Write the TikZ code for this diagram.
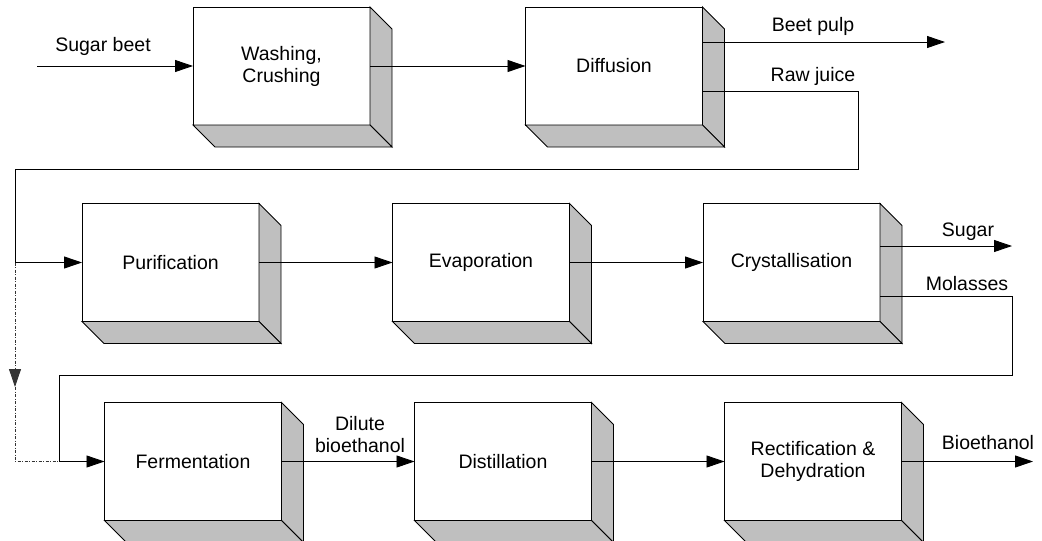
\documentclass[tikz,border=0pt]{standalone}
\usepackage{fontspec}
\setmainfont{Liberation Sans}
\usetikzlibrary{arrows.meta,calc}
\tikzset{
  stage/.style={draw=black, fill=white, line width=0.9pt, minimum width=177pt, minimum height=118pt,
    inner sep=0pt, outer sep=0pt, align=center, font=\fontsize{19.5}{22}\selectfont},
  face/.style={draw=black, fill=black!25, line width=0.9pt, line join=miter},
  flow/.style={draw=black, line width=0.9pt, -{Triangle[length=18pt,width=12pt]}},
  plain/.style={draw=black, line width=0.9pt},
  dashdotline/.style={draw=black!80, line width=0.8pt, dash pattern=on 3pt off 1.5pt on 1pt off 1.5pt},
  lbl/.style={font=\fontsize{19.5}{22}\selectfont, inner sep=0pt, align=center}
}
\newcommand{\boxfaces}[1]{%
  \path[face] (#1.north east) -- ++(22,22) -- ($(#1.south east)+(22,22)$) -- (#1.south east) -- cycle;
  \path[face] (#1.south west) -- ++(22,22) -- ($(#1.south east)+(22,22)$) -- (#1.south east) -- cycle;
}
\begin{document}
\begin{tikzpicture}[x=1pt,y=-1pt]
\useasboundingbox (0,0) rectangle (1042,541);
% stages
\node[stage] (wash)  at (281.5,66)   {Washing,\\Crushing};
\node[stage] (diff)  at (614,66)     {Diffusion};
\node[stage] (pur)   at (170.5,262.5){Purification};
\node[stage] (evap)  at (481,262.5)  {Evaporation};
\node[stage] (cryst) at (791.5,262.5){Crystallisation};
\node[stage] (ferm)  at (193,461.5)  {Fermentation};
\node[stage] (dist)  at (503,461.5)  {Distillation};
\node[stage] (rect)  at (813,461.5)  {Rectification \&\\Dehydration};
\foreach \n in {wash,diff,pur,evap,cryst,ferm,dist,rect}{\boxfaces{\n}}
% free ends and bends
\coordinate (in)   at (37,66);
\coordinate (bp)   at (945,42);
\coordinate (rj)   at (858,91);
\coordinate (rj2)  at (858,169);
\coordinate (lft)  at (15,169);
\coordinate (split) at (15,262.5);
\coordinate (dtip) at (15,387);
\coordinate (dcor) at (15,461.5);
\coordinate (sug)  at (1012,246);
\coordinate (mol)  at (1012,296);
\coordinate (mol2) at (1012,375);
\coordinate (mol3) at (59,375);
\coordinate (join) at (59,461.5);
\coordinate (out)  at (1033,461.5);
% connectors
\draw[flow] (in) -- (wash.west);
\draw[flow] (wash.east) -- (diff.west);
\draw[flow] (diff.east |- bp) -- (bp);
\draw[flow] (diff.east |- rj) -- (rj) -- (rj2) -- (lft) -- (split) -- (pur.west);
\draw[flow] (pur.east) -- (evap.west);
\draw[flow] (evap.east) -- (cryst.west);
\draw[flow] (cryst.east |- sug) -- (sug);
\draw[plain] (cryst.east |- mol) -- (mol) -- (mol2) -- (mol3) -- (join);
\draw[dashdotline, -{Triangle[length=18pt,width=12pt]}] (split) -- (dtip);
\draw[dashdotline] (dtip) -- (dcor) -- (join);
\draw[flow] (join) -- (ferm.west);
\draw[flow] (ferm.east) -- (dist.west);
\draw[flow] (dist.east) -- (rect.west);
\draw[flow] (rect.east) -- (out);
% labels
\node[lbl] (l1) at (103,46) {Sugar beet};
\node[lbl] (l2) at (813,26) {Beet pulp};
\node[lbl] (l3) at (813,76) {Raw juice};
\node[lbl] (l4) at (968,232) {Sugar};
\node[lbl] (l5) at (967,284) {Molasses};
\node[lbl] (l6) at (360,434.5) {Dilute\\bioethanol};
\node[lbl] (l7) at (988,443) {Bioethanol};
\end{tikzpicture}
\end{document}
